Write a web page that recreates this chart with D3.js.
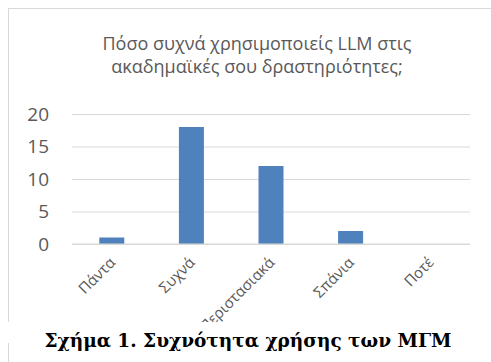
<!DOCTYPE html>
<html>
<head>
<meta charset="utf-8">
<script src="https://cdn.jsdelivr.net/npm/d3@7"></script>
<style>
  body { margin: 0; background: #fff; }
  svg { display: block; }
</style>
</head>
<body>
<svg id="chart" width="491" height="362"></svg>
<script>
// values
const categories = ["Πάντα", "Συχνά", "Περιστασιακά", "Σπάνια", "Ποτέ"];
const counts = [1, 18, 12, 2, 0];
const yTicks = [0, 5, 10, 15, 20];
const titleLines = ["Πόσο συχνά χρησιμοποιείς LLM στις", "ακαδημαϊκές σου δραστηριότητες;"];
const caption = "Σχήμα 1. Συχνότητα χρήσης των ΜΓΜ";

const svg = d3.select("#chart");
const frame = { left: 8, top: 8, right: 491, bottom: 322 };
const plot = { left: 72, right: 470, top: 114, bottom: 244 };
const textGrey = "#595959", gridGrey = "#d9d9d9", barBlue = "#4f81bd";

// clip everything in the chart object to its frame
svg.append("defs").append("clipPath").attr("id", "frameClip")
  .append("rect")
  .attr("x", frame.left).attr("y", frame.top)
  .attr("width", frame.right - frame.left).attr("height", frame.bottom - frame.top);

const chart = svg.append("g").attr("clip-path", "url(#frameClip)");

// frame lines (only top and left visible in the crop)
svg.append("line")
  .attr("x1", frame.left).attr("x2", frame.right)
  .attr("y1", frame.top + 0.5).attr("y2", frame.top + 0.5)
  .attr("stroke", gridGrey);
svg.append("line")
  .attr("x1", frame.left + 0.5).attr("x2", frame.left + 0.5)
  .attr("y1", frame.top).attr("y2", frame.bottom)
  .attr("stroke", gridGrey);
// the page border under the chart
svg.append("line")
  .attr("x1", frame.left + 0.5).attr("x2", frame.left + 0.5)
  .attr("y1", 343).attr("y2", 362)
  .attr("stroke", gridGrey);

// title
chart.append("text")
  .attr("x", 257).attr("y", 50)
  .attr("text-anchor", "middle")
  .attr("fill", textGrey)
  .style("font-family", "'Open Sans', sans-serif")
  .style("font-size", "18px")
  .selectAll("tspan")
  .data(titleLines)
  .join("tspan")
  .attr("x", 257)
  .attr("dy", (d, i) => i ? 23 : 0)
  .text(d => d);

const x = d3.scaleBand()
  .domain(categories)
  .range([plot.left, plot.right])
  .paddingInner(0.686)
  .paddingOuter(0.343);

const y = d3.scaleLinear()
  .domain([0, 20])
  .range([plot.bottom, plot.top]);

const yAxis = d3.axisLeft(y)
  .tickValues(yTicks)
  .tickSize(-(plot.right - plot.left))
  .tickPadding(23)
  .tickFormat(d3.format("d"));

const gy = chart.append("g")
  .attr("transform", `translate(${plot.left},0)`)
  .call(yAxis);
gy.select(".domain").remove();
gy.selectAll(".tick line").attr("stroke", gridGrey).attr("stroke-width", 1.2);
gy.selectAll(".tick text")
  .attr("fill", textGrey)
  .style("font-family", "'Open Sans', sans-serif")
  .style("font-size", "19px");

// bars
chart.append("g")
  .selectAll("rect")
  .data(categories)
  .join("rect")
  .attr("x", d => x(d))
  .attr("width", x.bandwidth())
  .attr("y", (d, i) => y(counts[i]))
  .attr("height", (d, i) => y(0) - y(counts[i]))
  .attr("fill", barBlue);

// redraw the zero line on top of bars
chart.append("line")
  .attr("x1", plot.left).attr("x2", plot.right)
  .attr("y1", y(0)).attr("y2", y(0))
  .attr("stroke", gridGrey).attr("stroke-width", 1.2);

// rotated category labels, each in its own group so the rotation is explicit
const labels = chart.append("g")
  .selectAll("g")
  .data(categories)
  .join("g")
  .attr("transform", d => `translate(${x(d) + x.bandwidth() / 2 - 3},${plot.bottom + 12})`);

labels.append("text")
  .attr("transform", "rotate(-45)")
  .attr("text-anchor", "end")
  .attr("dy", "0.7em")
  .attr("fill", textGrey)
  .style("font-family", "'Open Sans', sans-serif")
  .style("font-size", "15px")
  .text(d => d);

// figure caption below the chart
svg.append("text")
  .attr("x", 248).attr("y", 347)
  .attr("text-anchor", "middle")
  .attr("fill", "#000")
  .style("font-family", "'DejaVu Serif', serif")
  .style("font-weight", "bold")
  .style("font-size", "18.5px")
  .text(caption);
</script>
</body>
</html>
